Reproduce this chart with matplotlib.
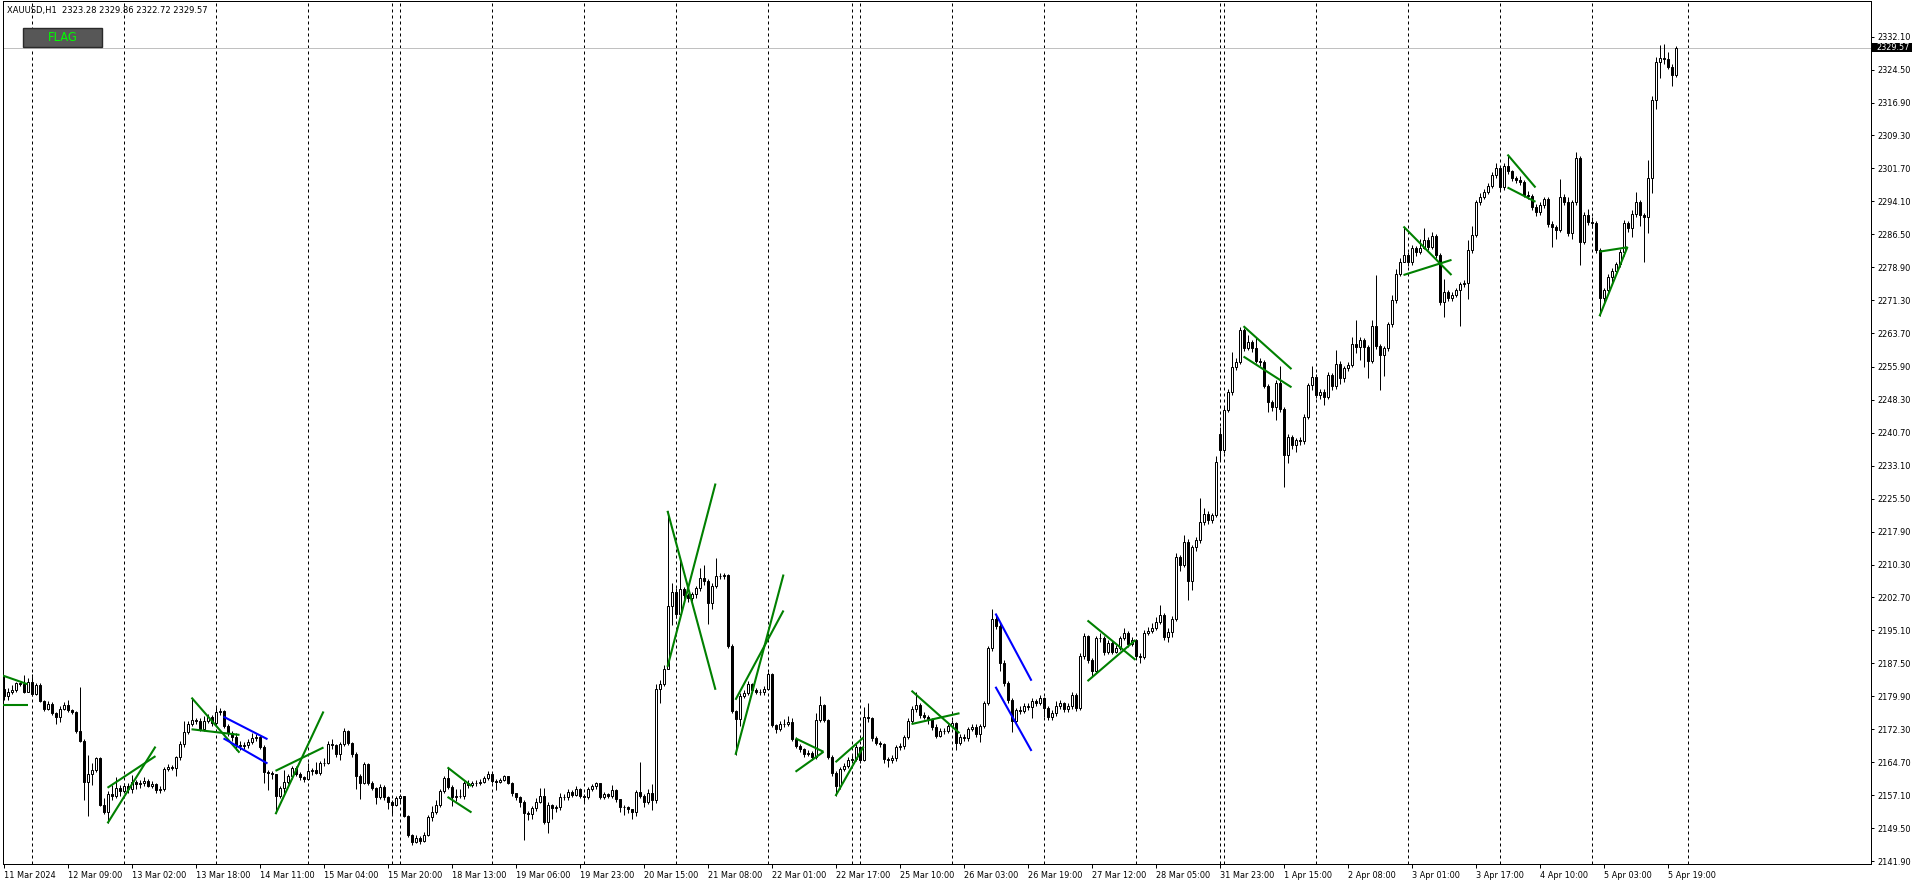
#!/usr/bin/env python3

# plot.py - XAUUSD H1 candlestick chart with flag pattern lines (MT4 style)

import matplotlib
matplotlib.use("Agg")
import matplotlib.pyplot as plt
from matplotlib.patches import Rectangle
from matplotlib.transforms import ScaledTranslation

# Hourly closes, bar 0 = 11 Mar 2024 (one line per trading day)
closes = [
    2180.0, 2180.8, 2181.4, 2182.9, 2182.8, 2181.0, 2183.3,
    2180.4, 2182.6, 2178.9, 2177.0, 2178.1, 2176.1, 2175.2, 2176.9, 2177.8, 2176.7, 2176.3, 2171.8, 2169.7, 2160.2, 2162.0, 2162.9, 2165.6, 2154.8, 2153.3, 2157.3, 2157.0, 2158.8, 2158.0,
    2159.3, 2158.5, 2160.2, 2159.6, 2159.8, 2160.3, 2159.3, 2159.6, 2158.2, 2158.6, 2163.2, 2163.6, 2163.4, 2165.8, 2168.8, 2171.7, 2173.5, 2174.4, 2174.1, 2172.3, 2174.2, 2175.1, 2173.7,
    2176.3, 2176.5, 2173.0, 2171.4, 2170.5, 2168.7, 2168.5, 2168.7, 2169.4, 2170.2, 2170.6, 2168.3, 2162.5, 2162.1, 2161.9, 2157.0, 2158.7, 2160.1, 2161.4, 2163.3, 2162.0, 2161.2, 2160.9,
    2162.7, 2162.8, 2162.3, 2164.4, 2164.6, 2169.0, 2168.7, 2166.7, 2168.8, 2171.9, 2169.1, 2166.7, 2161.5, 2160.0, 2164.2, 2160.0, 2158.7, 2156.7, 2159.0, 2156.6, 2155.6, 2154.8, 2156.4,
    2156.8, 2152.3, 2147.9, 2146.4, 2147.3, 2146.6, 2148.0, 2152.0, 2153.3, 2154.8, 2158.0, 2161.0, 2158.9, 2156.6, 2156.8, 2157.0, 2159.8, 2159.4, 2159.8, 2160.0, 2160.2, 2161.0, 2162.0,
    2160.4, 2160.2, 2160.5, 2161.4, 2160.0, 2157.5, 2156.6, 2155.6, 2152.9, 2152.7, 2154.1, 2155.6, 2156.9, 2151.0, 2154.8, 2154.1, 2154.3, 2156.6, 2156.7, 2157.9, 2157.2, 2158.5, 2157.0,
    2156.7, 2158.5, 2159.1, 2159.8, 2156.7, 2157.3, 2156.9, 2158.3, 2156.1, 2154.4, 2154.3, 2153.8, 2153.1, 2157.9, 2157.0, 2155.6, 2157.7, 2156.0, 2181.7, 2182.7, 2186.1, 2200.7, 2204.0,
    2198.9, 2204.6, 2203.3, 2202.5, 2203.5, 2204.8, 2207.1, 2206.4, 2201.4, 2205.4, 2207.7, 2207.6, 2207.9, 2191.5, 2176.4, 2174.6, 2180.0, 2180.7, 2182.7, 2181.4, 2181.0, 2180.8, 2181.7,
    2185.0, 2173.3, 2172.3, 2173.5, 2173.4, 2174.0, 2170.0, 2168.4, 2167.7, 2166.6, 2166.9, 2165.8, 2174.4, 2177.9, 2174.4, 2166.0, 2162.3, 2159.1, 2163.1, 2163.8, 2165.1, 2165.4, 2168.1,
    2165.2, 2175.2, 2174.8, 2170.2, 2169.2, 2168.8, 2165.4, 2165.2, 2165.6, 2168.1, 2168.4, 2170.4, 2174.3, 2176.9, 2177.9, 2175.6, 2175.2, 2174.6, 2172.9, 2170.8, 2171.9, 2172.0, 2173.1,
    2173.7, 2169.2, 2170.6, 2170.2, 2172.3, 2172.9, 2171.2, 2173.1, 2178.3, 2191.0, 2197.7, 2196.1, 2187.7, 2182.9, 2179.0, 2174.3, 2176.7, 2176.6, 2177.7, 2177.4, 2178.8, 2178.3, 2179.4,
    2177.1, 2175.1, 2176.0, 2177.7, 2178.3, 2176.9, 2177.7, 2180.2, 2177.1, 2189.2, 2193.8, 2188.3, 2185.8, 2193.3, 2193.4, 2190.2, 2192.3, 2190.2, 2191.0, 2193.3, 2194.6, 2192.0, 2192.9,
    2189.2, 2189.0, 2194.6, 2195.0, 2195.7, 2197.1, 2198.7, 2193.7, 2194.8, 2197.7, 2212.1, 2210.2, 2215.6, 2206.4, 2214.3, 2216.0, 2220.2, 2222.0, 2220.5, 2221.7, 2233.9,
    2236.7,
    2246.0, 2250.0, 2255.8, 2257.1, 2264.4, 2260.2, 2261.6, 2260.2, 2257.3, 2257.1, 2251.6, 2247.7, 2246.7, 2252.3, 2246.3, 2235.6, 2239.7, 2237.9, 2239.0, 2238.8, 2244.4, 2251.7, 2253.5,
    2249.4, 2250.2, 2248.9, 2254.0, 2251.4, 2256.6, 2253.4, 2255.6, 2256.4, 2261.1, 2260.6, 2262.1, 2260.4, 2257.3, 2265.3, 2260.7, 2258.6, 2260.2, 2265.7, 2271.3, 2277.3, 2280.2, 2281.7,
    2280.0, 2283.3, 2282.5, 2283.3, 2285.2, 2283.6, 2286.1, 2281.7, 2270.9, 2273.1, 2271.7, 2272.6, 2273.6, 2275.0, 2275.2, 2282.9, 2286.3, 2293.9, 2295.2, 2296.3, 2297.7, 2300.2, 2301.7,
    2297.3, 2302.3, 2301.0, 2299.4, 2299.0, 2298.6, 2295.6, 2295.3, 2292.9, 2291.7, 2293.3, 2294.6, 2288.9, 2288.1, 2287.5, 2295.2, 2294.0, 2286.7, 2293.9, 2304.0, 2284.8, 2290.9, 2289.4,
    2289.0, 2282.9, 2271.7, 2273.6, 2276.6, 2278.1, 2279.6, 2282.5, 2289.0, 2287.9, 2291.2, 2293.9, 2290.9, 2290.6, 2299.6, 2317.5, 2326.3, 2327.1, 2327.0, 2325.2, 2323.3, 2329.57,
]

highs = [
    2184.7, 2181.8, 2182.5, 2183.3, 2183.3, 2184.8, 2184.2,
    2185.0, 2183.0, 2182.9, 2179.1, 2178.8, 2178.5, 2176.3, 2177.6, 2178.5, 2179.0, 2177.0, 2176.5, 2182.1, 2170.0, 2166.4, 2164.5, 2166.0, 2166.0, 2156.5, 2158.0, 2159.5, 2161.3, 2159.5,
    2160.0, 2159.8, 2161.8, 2160.6, 2160.5, 2161.2, 2160.8, 2160.4, 2159.8, 2159.2, 2163.7, 2164.2, 2164.0, 2166.1, 2169.5, 2174.3, 2174.2, 2179.6, 2175.0, 2174.8, 2175.4, 2175.8, 2175.5,
    2177.5, 2177.1, 2176.8, 2173.5, 2172.0, 2171.5, 2169.6, 2169.3, 2170.0, 2171.4, 2171.2, 2171.0, 2168.6, 2163.0, 2162.6, 2162.0, 2159.3, 2162.9, 2162.0, 2163.9, 2163.8, 2162.4, 2161.6,
    2164.5, 2163.4, 2164.8, 2165.0, 2165.6, 2169.6, 2170.0, 2169.0, 2169.4, 2172.5, 2172.2, 2169.4, 2167.0, 2161.9, 2164.8, 2164.4, 2160.3, 2159.0, 2159.6, 2159.4, 2157.0, 2155.9, 2157.0,
    2157.3, 2157.0, 2152.5, 2148.2, 2148.0, 2147.7, 2148.6, 2152.6, 2154.6, 2156.0, 2158.6, 2161.6, 2163.5, 2159.4, 2158.4, 2158.4, 2160.4, 2160.7, 2160.4, 2160.5, 2160.8, 2161.5, 2162.6,
    2162.5, 2160.8, 2161.0, 2161.8, 2161.6, 2160.2, 2157.6, 2156.8, 2155.9, 2153.4, 2154.5, 2156.5, 2158.7, 2158.7, 2155.4, 2155.0, 2154.8, 2157.6, 2157.3, 2158.6, 2158.3, 2159.3, 2158.7,
    2157.4, 2158.9, 2159.6, 2160.2, 2160.0, 2157.9, 2157.6, 2159.5, 2158.5, 2156.3, 2154.9, 2154.6, 2154.0, 2158.3, 2164.8, 2157.3, 2158.4, 2159.7, 2182.8, 2183.7, 2187.1, 2222.7, 2206.1,
    2205.0, 2211.7, 2205.2, 2203.8, 2204.0, 2205.3, 2209.4, 2210.2, 2206.9, 2206.0, 2211.7, 2208.3, 2208.3, 2208.2, 2192.0, 2176.8, 2180.6, 2181.4, 2183.5, 2183.0, 2181.8, 2181.5, 2182.3,
    2185.5, 2185.3, 2173.6, 2174.2, 2174.6, 2175.3, 2175.0, 2170.4, 2168.8, 2167.9, 2167.6, 2167.3, 2176.0, 2180.0, 2178.2, 2174.7, 2166.3, 2162.6, 2163.6, 2164.6, 2165.8, 2166.6, 2168.8,
    2168.4, 2177.5, 2178.3, 2175.2, 2170.8, 2169.6, 2169.2, 2166.0, 2166.3, 2168.6, 2169.2, 2171.0, 2174.8, 2177.6, 2181.0, 2178.4, 2176.2, 2175.7, 2175.0, 2173.4, 2172.5, 2172.6, 2173.6,
    2174.4, 2174.0, 2171.1, 2171.3, 2172.8, 2173.6, 2173.4, 2173.6, 2178.9, 2191.6, 2200.0, 2198.6, 2196.8, 2188.2, 2183.4, 2179.6, 2177.3, 2177.6, 2178.4, 2178.3, 2179.4, 2179.3, 2180.3,
    2179.8, 2177.6, 2176.8, 2178.8, 2179.0, 2178.7, 2178.3, 2181.0, 2180.6, 2189.9, 2194.6, 2194.0, 2188.8, 2193.9, 2194.5, 2193.8, 2192.9, 2192.6, 2191.8, 2193.8, 2195.6, 2195.0, 2193.6,
    2193.2, 2189.8, 2195.2, 2195.8, 2196.9, 2198.2, 2201.0, 2199.2, 2195.6, 2198.4, 2213.0, 2212.6, 2217.1, 2216.2, 2214.9, 2216.6, 2225.6, 2223.3, 2222.6, 2222.3, 2235.4,
    2242.0,
    2246.6, 2250.8, 2259.4, 2258.0, 2265.2, 2264.8, 2263.3, 2262.2, 2262.9, 2257.9, 2257.5, 2252.0, 2248.2, 2252.9, 2256.0, 2246.7, 2240.4, 2240.2, 2239.6, 2239.8, 2245.0, 2252.3, 2256.0,
    2254.2, 2250.9, 2250.7, 2254.7, 2254.6, 2259.8, 2257.2, 2256.2, 2257.0, 2262.9, 2266.7, 2262.8, 2262.6, 2260.9, 2266.7, 2277.1, 2261.2, 2260.8, 2266.3, 2272.5, 2278.4, 2281.0, 2288.3,
    2282.5, 2284.0, 2283.8, 2285.5, 2287.9, 2285.8, 2287.0, 2286.6, 2282.2, 2276.3, 2273.6, 2273.2, 2274.2, 2275.6, 2275.9, 2285.3, 2288.4, 2294.5, 2296.0, 2297.0, 2298.4, 2300.9, 2302.9,
    2302.0, 2302.9, 2304.9, 2301.4, 2300.0, 2299.9, 2299.0, 2296.4, 2295.8, 2293.4, 2293.9, 2295.2, 2295.0, 2289.6, 2288.6, 2299.2, 2295.8, 2295.0, 2294.5, 2305.6, 2304.5, 2291.6, 2292.3,
    2290.4, 2289.6, 2283.4, 2274.2, 2277.3, 2278.8, 2280.2, 2283.2, 2289.7, 2289.6, 2292.0, 2296.3, 2294.5, 2291.5, 2303.6, 2318.3, 2327.5, 2330.2, 2330.5, 2328.5, 2325.8, 2329.86,
]

lows = [
    2179.0, 2179.0, 2180.4, 2180.9, 2182.2, 2180.7, 2180.8,
    2180.0, 2180.2, 2178.5, 2176.6, 2176.8, 2175.5, 2173.5, 2174.0, 2176.8, 2176.3, 2175.8, 2171.5, 2169.3, 2156.0, 2152.4, 2159.5, 2162.5, 2154.5, 2152.8, 2150.6, 2156.0, 2156.5, 2156.8,
    2157.5, 2157.6, 2157.5, 2158.6, 2158.8, 2159.2, 2158.9, 2158.7, 2157.5, 2157.6, 2158.0, 2162.6, 2162.8, 2161.5, 2165.2, 2168.3, 2171.2, 2173.0, 2173.5, 2171.8, 2172.0, 2173.8, 2173.0,
    2173.5, 2175.5, 2172.5, 2170.8, 2169.5, 2167.5, 2167.6, 2167.8, 2168.0, 2169.0, 2169.6, 2167.8, 2160.0, 2158.3, 2160.8, 2152.9, 2156.5, 2157.5, 2159.6, 2160.8, 2161.5, 2160.6, 2160.2,
    2160.7, 2161.8, 2161.9, 2161.8, 2163.8, 2164.2, 2167.8, 2165.8, 2165.2, 2168.4, 2168.6, 2166.0, 2158.5, 2156.3, 2159.6, 2159.4, 2158.2, 2155.0, 2156.3, 2156.0, 2154.0, 2152.5, 2154.6,
    2155.5, 2152.0, 2147.5, 2145.6, 2146.0, 2145.9, 2146.3, 2147.6, 2151.2, 2152.8, 2154.3, 2157.6, 2158.4, 2154.7, 2155.8, 2156.4, 2156.3, 2158.8, 2158.9, 2159.1, 2159.5, 2160.0, 2160.6,
    2160.0, 2158.3, 2160.0, 2160.3, 2159.6, 2157.0, 2155.9, 2154.3, 2146.8, 2151.3, 2151.7, 2153.5, 2155.3, 2150.4, 2148.3, 2151.5, 2153.2, 2153.6, 2156.0, 2156.0, 2156.6, 2157.0, 2156.5,
    2155.6, 2156.2, 2158.0, 2158.4, 2156.2, 2156.3, 2156.4, 2156.5, 2155.6, 2153.3, 2152.6, 2152.9, 2151.5, 2152.3, 2156.4, 2154.4, 2155.1, 2153.6, 2155.2, 2178.3, 2182.2, 2186.5, 2196.4,
    2198.0, 2198.5, 2202.3, 2201.6, 2201.8, 2202.5, 2204.2, 2205.5, 2196.7, 2200.0, 2205.0, 2206.9, 2207.0, 2191.0, 2176.0, 2166.4, 2173.0, 2179.5, 2180.3, 2180.9, 2180.5, 2180.2, 2180.3,
    2181.4, 2172.8, 2171.5, 2172.0, 2172.8, 2173.0, 2169.6, 2168.0, 2167.0, 2166.0, 2166.2, 2165.2, 2165.5, 2174.0, 2173.9, 2165.5, 2161.6, 2156.8, 2158.6, 2162.6, 2163.3, 2164.6, 2165.0,
    2164.6, 2165.0, 2174.0, 2169.6, 2168.6, 2168.2, 2164.6, 2163.5, 2164.6, 2165.0, 2167.5, 2167.8, 2170.0, 2173.8, 2176.3, 2175.0, 2174.6, 2173.6, 2172.2, 2170.2, 2170.4, 2171.3, 2171.4,
    2172.6, 2167.4, 2168.6, 2169.6, 2169.6, 2171.8, 2170.6, 2169.4, 2172.6, 2177.8, 2190.4, 2195.5, 2185.7, 2182.3, 2178.3, 2171.7, 2173.6, 2175.9, 2176.0, 2176.8, 2175.0, 2177.6, 2177.8,
    2175.2, 2174.4, 2174.5, 2175.4, 2177.0, 2176.3, 2176.2, 2177.0, 2176.4, 2176.8, 2188.6, 2187.6, 2184.5, 2185.3, 2192.4, 2189.4, 2189.6, 2189.6, 2189.8, 2190.5, 2192.8, 2191.2, 2191.5,
    2188.6, 2187.5, 2188.4, 2194.0, 2194.6, 2195.2, 2196.6, 2192.8, 2192.4, 2193.6, 2197.2, 2208.7, 2209.8, 2202.1, 2204.4, 2213.4, 2215.2, 2219.5, 2219.6, 2220.0, 2221.2,
    2234.4,
    2236.0, 2245.4, 2249.4, 2255.2, 2256.5, 2259.6, 2259.8, 2259.4, 2256.7, 2256.2, 2251.0, 2245.6, 2245.8, 2243.7, 2245.6, 2228.3, 2233.7, 2237.0, 2236.2, 2238.0, 2238.2, 2243.9, 2250.6,
    2248.8, 2248.4, 2247.0, 2248.4, 2250.6, 2250.9, 2252.0, 2252.5, 2255.0, 2255.8, 2259.2, 2257.6, 2255.8, 2253.3, 2256.8, 2260.0, 2250.6, 2253.9, 2259.6, 2265.1, 2270.6, 2276.8, 2280.0,
    2279.3, 2279.4, 2281.6, 2282.0, 2283.0, 2282.9, 2283.0, 2281.0, 2270.3, 2267.5, 2271.0, 2271.2, 2272.0, 2265.4, 2274.4, 2271.5, 2282.2, 2285.8, 2293.2, 2294.6, 2295.8, 2297.2, 2299.6,
    2296.5, 2296.8, 2300.4, 2298.8, 2298.3, 2297.8, 2295.0, 2294.6, 2292.2, 2290.8, 2291.0, 2292.6, 2288.2, 2283.5, 2285.5, 2287.0, 2293.2, 2286.0, 2285.4, 2293.3, 2279.4, 2284.2, 2288.6,
    2288.0, 2282.2, 2267.6, 2270.5, 2272.8, 2275.6, 2277.4, 2279.0, 2281.5, 2287.1, 2285.8, 2290.6, 2288.4, 2280.2, 2286.9, 2296.0, 2315.5, 2322.5, 2325.9, 2324.6, 2320.7, 2322.72,
]

# opens where the bar does not open at the previous close
gap_opens = {0: 2181.5, 304: 2240.4, 418: 2323.28}

# day separators (bar index of first bar of each session)
separators = [7, 30, 53, 76, 97, 99, 122, 145, 168, 191, 212, 214, 237, 260, 283, 304, 305, 328, 351, 374, 397, 421]

# time axis labels
first_label = "11 Mar 2024"
time_labels = ["12 Mar 09:00", "13 Mar 02:00", "13 Mar 18:00", "14 Mar 11:00", "15 Mar 04:00",
               "15 Mar 20:00", "18 Mar 13:00", "19 Mar 06:00", "19 Mar 23:00", "20 Mar 15:00",
               "21 Mar 08:00", "22 Mar 01:00", "22 Mar 17:00", "25 Mar 10:00", "26 Mar 03:00",
               "26 Mar 19:00", "27 Mar 12:00", "28 Mar 05:00", "31 Mar 23:00", "1 Apr 15:00",
               "2 Apr 08:00", "3 Apr 01:00", "3 Apr 17:00", "4 Apr 10:00", "5 Apr 03:00", "5 Apr 19:00"]

# price axis labels
price_ticks = [2332.10, 2324.50, 2316.90, 2309.30, 2301.70, 2294.10, 2286.50, 2278.90, 2271.30,
               2263.70, 2255.90, 2248.30, 2240.70, 2233.10, 2225.50, 2217.90, 2210.30, 2202.70,
               2195.10, 2187.50, 2179.90, 2172.30, 2164.70, 2157.10, 2149.50, 2141.90]

# flag pattern lines: (bar0, price0, bar1, price1)
green_lines = [
    (-0.2, 2184.7, 6, 2182.7), (-0.2, 2178.0, 6, 2178.0),
    (26, 2150.6, 38, 2168.3), (26, 2158.8, 38, 2166.1),
    (47, 2179.6, 59, 2166.9), (47, 2172.3, 59, 2171.0),
    (68, 2152.7, 80, 2176.4), (68, 2162.7, 80, 2168.1),
    (111, 2163.5, 117, 2159.2), (111, 2156.7, 117, 2153.1),
    (166, 2222.7, 178, 2181.4), (166, 2186.7, 178, 2229.0),
    (183, 2166.4, 195, 2208.0), (183, 2179.1, 195, 2199.7),
    (198, 2170.2, 205, 2167.1), (198, 2162.5, 205, 2167.1),
    (208, 2156.9, 215, 2168.3), (208, 2164.7, 215, 2170.4),
    (227, 2181.2, 239, 2171.4), (227, 2173.5, 239, 2176.0),
    (271, 2197.4, 283, 2188.3), (271, 2183.4, 283, 2192.9),
    (310, 2265.3, 322, 2255.4), (310, 2258.3, 322, 2251.2),
    (350, 2288.3, 362, 2277.1), (350, 2277.1, 362, 2280.6),
    (376, 2304.9, 383, 2297.3), (376, 2297.3, 383, 2294.0),
    (399, 2267.6, 406, 2283.6), (399, 2282.5, 406, 2283.5),
]
blue_lines = [
    (55, 2175.2, 66, 2170.0), (55, 2170.2, 66, 2164.4),
    (248, 2199.0, 257, 2183.5), (248, 2182.1, 257, 2167.3),
]

header = "XAUUSD,H1  2323.28 2329.86 2322.72 2329.57"
bid = 2329.57

# Figure geometry (pixels)
W, H, DPI = 1916, 885, 100
AX_L, AX_R, AX_T, AX_B = 2.5, 1870.5, 1.0, 864.0
Y_LO, Y_HI = 2141.21, 2340.33

n = len(closes)
assert len(highs) == n and len(lows) == n

opens = [gap_opens.get(i, closes[i - 1] if i > 0 else closes[0]) for i in range(n)]

fig = plt.figure(figsize=(W / DPI, H / DPI), dpi=DPI, facecolor="white")
ax = fig.add_axes([AX_L / W, (H - AX_B) / H, (AX_R - AX_L) / W, (AX_B - AX_T) / H])
ax.set_facecolor("white")

# 4 px per bar, bar 0 centred 1 px inside the frame
ax.set_xlim(-0.25, (AX_R - 3.5) / 4)
ax.set_ylim(Y_LO, Y_HI)

PX = 0.72  # one pixel in points

# day separators
for b in separators:
    ax.axvline(b, color="black", lw=PX, ls=(0, (3, 3)), zorder=1)

# bid line
ax.axhline(bid, color="#c0c0c0", lw=PX, zorder=1)

# candles
xs = list(range(n))
ax.vlines(xs, lows, highs, color="black", lw=PX, zorder=2)
for i in xs:
    o, c = opens[i], closes[i]
    face = "white" if c >= o else "black"
    ax.bar(i, abs(c - o), bottom=min(o, c), width=0.5, facecolor=face,
           edgecolor="black", linewidth=PX, zorder=3)

# flag lines
for x0, y0, x1, y1 in green_lines:
    ax.plot([x0, x1], [y0, y1], color="#008000", lw=1.5, zorder=4, solid_capstyle="butt")
for x0, y0, x1, y1 in blue_lines:
    ax.plot([x0, x1], [y0, y1], color="#0000ff", lw=1.5, zorder=4, solid_capstyle="butt")

for s in ax.spines.values():
    s.set_color("black")
    s.set_linewidth(PX)

# price axis on the right
ax.yaxis.tick_right()
ax.set_yticks(price_ticks)
ax.set_yticklabels(["{:.2f}".format(v) for v in price_ticks])
ax.tick_params(axis="y", direction="out", length=2.2, width=PX, pad=2.6, labelsize=5.9, colors="black")

# time axis
xt = [0] + [16 + 16 * k for k in range(len(time_labels))]
ax.set_xticks(xt)
ax.set_xticklabels([first_label] + time_labels)
ax.tick_params(axis="x", direction="out", length=2.6, width=PX, pad=2.2, labelsize=5.9, colors="black")
shift = ScaledTranslation(1.0 / DPI, 0, fig.dpi_scale_trans)
for lbl in ax.get_xticklabels():
    lbl.set_ha("left")
    lbl.set_transform(lbl.get_transform() + shift)

# bid price box on the axis
y_bid = AX_T + (Y_HI - bid) / (Y_HI - Y_LO) * (AX_B - AX_T)
fig.patches.append(Rectangle((1872 / W, 1 - (y_bid + 4.6) / H), 40 / W, 9.2 / H,
                             transform=fig.transFigure,
                             facecolor="black", edgecolor="black", linewidth=0, zorder=5))
fig.text(1876.5 / W, 1 - y_bid / H, "{:.2f}".format(bid), color="white", fontsize=5.9,
         va="center", ha="left", zorder=6)

# header text
fig.text(7 / W, 1 - 11 / H, header, fontsize=6.0, color="black", va="center", ha="left", zorder=6)

# FLAG button
fig.patches.append(Rectangle((23.3 / W, 1 - 47 / H), (102 - 23.3) / W, (47 - 28.3) / H,
                             transform=fig.transFigure, facecolor="#575757",
                             edgecolor="#2a2a2a", linewidth=1, zorder=5))
fig.text(62.6 / W, 1 - 37.8 / H, "FLAG", color="#00ff00", fontsize=8.3,
         va="center", ha="center", zorder=6)

fig.savefig("out.png", dpi=DPI, facecolor="white")
